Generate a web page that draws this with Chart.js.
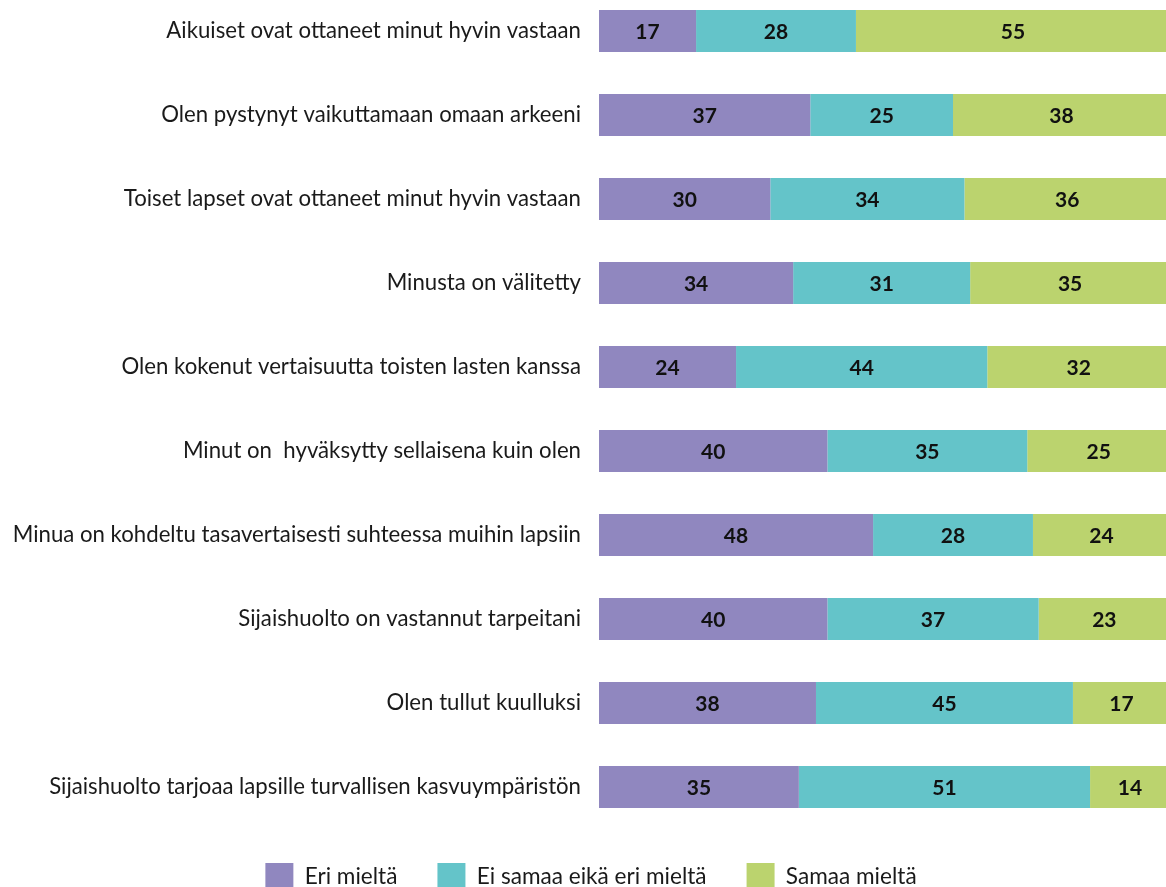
<!DOCTYPE html>
<html lang="fi">
<head>
<meta charset="utf-8">
<title>Sijaishuolto - kokemukset</title>
<script src="https://cdn.jsdelivr.net/npm/chart.js@4.4.1/dist/chart.umd.min.js"></script>
<style>
    html, body { margin: 0; padding: 0; background: #fff; overflow: hidden; width: 1166px; height: 887px; }
    #wrap { position: absolute; left: 0; top: -11px; width: 1170px; height: 918px; }
</style>
</head>
<body>
<div id="wrap"><canvas id="attitudeChart" width="1170" height="918"></canvas></div>
<script>
// =====================================================
// Data
// =====================================================

const statements = [
    'Aikuiset ovat ottaneet minut hyvin vastaan',
    'Olen pystynyt vaikuttamaan omaan arkeeni',
    'Toiset lapset ovat ottaneet minut hyvin vastaan',
    'Minusta on välitetty',
    'Olen kokenut vertaisuutta toisten lasten kanssa',
    'Minut on  hyväksytty sellaisena kuin olen',
    'Minua on kohdeltu tasavertaisesti suhteessa muihin lapsiin',
    'Sijaishuolto on vastannut tarpeitani',
    'Olen tullut kuulluksi',
    'Sijaishuolto tarjoaa lapsille turvallisen kasvuympäristön'
];

const seriesNames = ['Eri mieltä', 'Ei samaa eikä eri mieltä', 'Samaa mieltä'];

const disagree = [17, 37, 30, 34, 24, 40, 48, 40, 38, 35];
const neutral  = [28, 25, 34, 31, 44, 35, 28, 37, 45, 51];
const agree    = [55, 38, 36, 35, 32, 25, 24, 23, 17, 14];

const seriesColors = ['#9087BF', '#64C4C9', '#BBD36E'];

const FONT = 'Lato, "Noto Sans", sans-serif';
const TEXT_COLOR = '#1a1a1a';

// =====================================================
// Value labels inside the bars
// =====================================================

const barValueLabels = {
    id: 'barValueLabels',
    afterDatasetsDraw(chart) {
        const ctx = chart.ctx;
        ctx.save();
        ctx.font = 'bold 21px ' + FONT;
        ctx.fillStyle = '#111';
        ctx.textAlign = 'center';
        ctx.textBaseline = 'middle';
        chart.data.datasets.forEach((ds, i) => {
            const meta = chart.getDatasetMeta(i);
            meta.data.forEach((bar, j) => {
                const p = bar.getCenterPoint();
                ctx.fillText(ds.data[j], p.x, p.y + 1);
            });
        });
        ctx.restore();
    }
};

// legend padding is also the gap between items; pull the row up a bit
// and move it slightly right
const legendNudge = {
    id: 'legendNudge',
    afterLayout(chart) {
        if (chart.legend) {
            chart.legend.top -= 6;
            chart.legend.bottom -= 6;
            chart.legend.left += 12;
        }
    }
};

// =====================================================
// Chart
// =====================================================

const datasets = [disagree, neutral, agree].map((values, i) => ({
    label: seriesNames[i],
    data: values,
    backgroundColor: seriesColors[i],
    borderWidth: 0,
    barPercentage: 1.0,
    categoryPercentage: 0.5
}));

new Chart(document.getElementById('attitudeChart'), {
    type: 'bar',
    data: {
        labels: statements,
        datasets: datasets
    },
    options: {
        indexAxis: 'y',
        responsive: false,
        animation: false,
        layout: { padding: 0 },
        plugins: {
            legend: {
                position: 'bottom',
                labels: {
                    boxWidth: 28,
                    boxHeight: 28,
                    padding: 40,
                    color: TEXT_COLOR,
                    font: { family: FONT, size: 22.6 }
                }
            },
            tooltip: { enabled: false }
        },
        scales: {
            x: {
                stacked: true,
                min: 0,
                max: 100,
                display: false
            },
            y: {
                stacked: true,
                grid: { display: false, drawTicks: false },
                border: { display: false },
                ticks: {
                    padding: 18,
                    color: TEXT_COLOR,
                    font: { family: FONT, size: 22.2 }
                },
                afterFit(axis) {
                    // fixed label column, no extra room above/below the bars
                    axis.width = 599;
                    axis.paddingTop = 0;
                    axis.paddingBottom = 0;
                }
            }
        }
    },
    plugins: [barValueLabels, legendNudge]
});
</script>
</body>
</html>
